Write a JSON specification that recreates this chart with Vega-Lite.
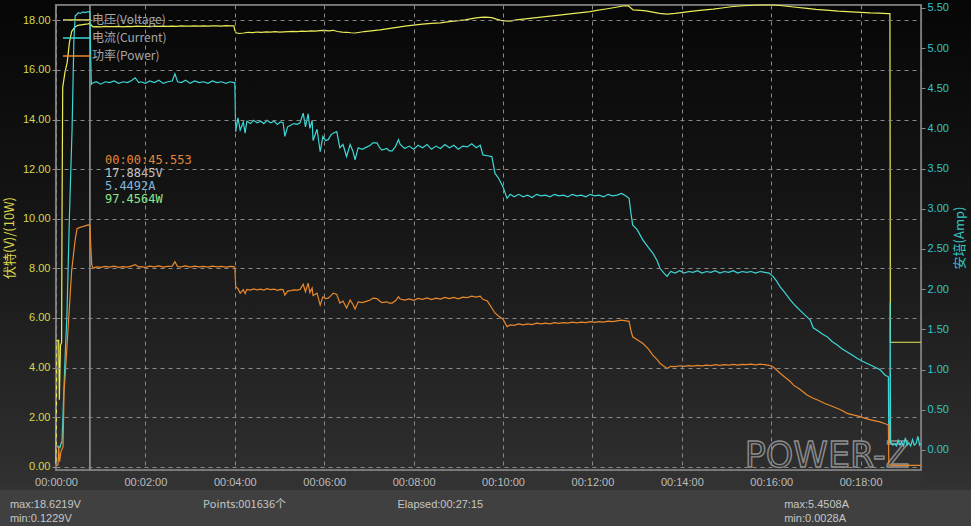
{
  "$schema": "https://vega.github.io/schema/vega-lite/v6.json",
  "width": 865,
  "height": 465,
  "autosize": {"type": "none"},
  "padding": {"left": 56, "top": 5, "right": 50, "bottom": 56},
  "background": "#404040",
  "config": {
    "view": {
      "fill": {"gradient": "linear", "x1": 0, "y1": 0, "x2": 0, "y2": 1, "stops": [{"offset": 0, "color": "#070707"}, {"offset": 0.5, "color": "#171717"}, {"offset": 1, "color": "#2e2e2e"}]},
      "stroke": "#8e8e8e",
      "strokeWidth": 1.5
    },
    "axis": {
      "domain": false,
      "labelFont": "Liberation Sans",
      "labelFontSize": 11,
      "titleFont": "Noto Sans CJK SC",
      "titleFontSize": 13,
      "titleFontWeight": "normal",
      "gridColor": "#8a8a8a",
      "gridDash": [4, 4],
      "gridWidth": 1,
      "tickColor": "#8e8e8e",
      "labelOverlap": false,
      "labelFlush": false
    }
  },
  "datasets": {
    "voltage": [
      {"t":0,"v":0.12},{"t":0.02,"v":5.1},{"t":0.06,"v":5.1},{"t":0.075,"v":2.7},{"t":0.1,"v":4.9},{"t":0.125,"v":5.0},{"t":0.135,"v":10.2},{"t":0.15,"v":15.3},{"t":0.2,"v":15.9},{"t":0.25,"v":16.3},{"t":0.3,"v":17.1},{"t":0.35,"v":17.55},{"t":0.42,"v":17.72},{"t":0.49,"v":17.8},{"t":0.6,"v":17.83},{"t":0.716,"v":17.86},{"t":0.759,"v":17.88},{"t":0.79,"v":17.8},{"t":0.83,"v":17.74},
      {"t":0.9,"v":17.75},{"t":1.0,"v":17.74},{"t":1.1,"v":17.76},{"t":1.2,"v":17.75},{"t":1.3,"v":17.75},{"t":1.4,"v":17.76},{"t":1.5,"v":17.74},{"t":1.6,"v":17.76},{"t":1.7,"v":17.75},{"t":1.8,"v":17.77},{"t":1.9,"v":17.76},{"t":2.0,"v":17.76},{"t":2.1,"v":17.75},{"t":2.2,"v":17.77},{"t":2.3,"v":17.76},{"t":2.4,"v":17.77},{"t":2.5,"v":17.76},{"t":2.6,"v":17.77},{"t":2.7,"v":17.76},{"t":2.8,"v":17.78},{"t":2.9,"v":17.77},{"t":3.0,"v":17.77},{"t":3.1,"v":17.78},{"t":3.2,"v":17.77},{"t":3.3,"v":17.78},{"t":3.4,"v":17.77},{"t":3.5,"v":17.78},{"t":3.6,"v":17.78},{"t":3.7,"v":17.77},{"t":3.8,"v":17.79},{"t":3.9,"v":17.78},{"t":3.98,"v":17.78},
      {"t":4.0,"v":17.6},{"t":4.03,"v":17.5},{"t":4.1,"v":17.47},{"t":4.2,"v":17.49},{"t":4.3,"v":17.52},{"t":4.4,"v":17.51},{"t":4.5,"v":17.53},{"t":4.6,"v":17.52},{"t":4.7,"v":17.54},{"t":4.8,"v":17.53},{"t":4.9,"v":17.55},{"t":5.0,"v":17.53},{"t":5.1,"v":17.54},{"t":5.2,"v":17.55},{"t":5.3,"v":17.56},{"t":5.4,"v":17.55},{"t":5.5,"v":17.57},{"t":5.6,"v":17.56},{"t":5.7,"v":17.58},{"t":5.8,"v":17.57},{"t":5.9,"v":17.59},{"t":6.0,"v":17.6},{"t":6.1,"v":17.58},{"t":6.2,"v":17.6},{"t":6.3,"v":17.55},{"t":6.4,"v":17.53},{"t":6.5,"v":17.52},{"t":6.6,"v":17.5},{"t":6.69,"v":17.49},{"t":6.8,"v":17.52},{"t":6.9,"v":17.55},{"t":7.0,"v":17.57},{"t":7.1,"v":17.59},{"t":7.25,"v":17.62},{"t":7.4,"v":17.66},{"t":7.55,"v":17.7},{"t":7.7,"v":17.74},{"t":7.85,"v":17.78},{"t":8.0,"v":17.81},{"t":8.2,"v":17.85},{"t":8.4,"v":17.88},{"t":8.6,"v":17.9},{"t":8.8,"v":17.95},{"t":9.0,"v":17.99},{"t":9.15,"v":18.02},{"t":9.3,"v":18.07},{"t":9.4,"v":18.1},{"t":9.49,"v":18.12},{"t":9.6,"v":18.13},{"t":9.75,"v":18.11},{"t":9.85,"v":18.05},{"t":9.95,"v":18.0},{"t":10.05,"v":17.98},{"t":10.16,"v":17.97},{"t":10.3,"v":18.02},{"t":10.45,"v":18.05},{"t":10.6,"v":18.08},{"t":10.8,"v":18.12},{"t":11.0,"v":18.16},{"t":11.21,"v":18.2},{"t":11.4,"v":18.24},{"t":11.6,"v":18.28},{"t":11.8,"v":18.32},{"t":11.95,"v":18.35},{"t":12.1,"v":18.4},{"t":12.3,"v":18.46},{"t":12.5,"v":18.52},{"t":12.68,"v":18.58},{"t":12.8,"v":18.59},{"t":12.86,"v":18.5},{"t":12.91,"v":18.42},{"t":13.07,"v":18.4},{"t":13.2,"v":18.38},{"t":13.35,"v":18.33},{"t":13.5,"v":18.28},{"t":13.67,"v":18.25},{"t":13.85,"v":18.28},{"t":14.03,"v":18.32},{"t":14.2,"v":18.36},{"t":14.4,"v":18.4},{"t":14.7,"v":18.45},{"t":14.9,"v":18.5},{"t":15.1,"v":18.55},{"t":15.3,"v":18.58},{"t":15.59,"v":18.61},{"t":15.8,"v":18.62},{"t":16.0,"v":18.62},{"t":16.13,"v":18.61},{"t":16.3,"v":18.58},{"t":16.5,"v":18.54},{"t":16.8,"v":18.48},{"t":17.0,"v":18.44},{"t":17.3,"v":18.4},{"t":17.5,"v":18.37},{"t":17.7,"v":18.35},{"t":17.9,"v":18.33},{"t":18.21,"v":18.3},{"t":18.4,"v":18.29},{"t":18.61,"v":18.27},{"t":18.655,"v":18.27},{"t":18.665,"v":5.02},{"t":19.35,"v":5.02}
    ],
    "current": [
      {"t":0,"v":0.02},{"t":0.045,"v":0.05},{"t":0.09,"v":0.03},{"t":0.11,"v":0.08},{"t":0.134,"v":0.1},{"t":0.2,"v":1.1},{"t":0.246,"v":1.7},{"t":0.3,"v":2.9},{"t":0.36,"v":4.0},{"t":0.4,"v":5.1},{"t":0.43,"v":5.4},{"t":0.47,"v":5.42},{"t":0.5,"v":5.44},{"t":0.55,"v":5.43},{"t":0.6,"v":5.45},{"t":0.65,"v":5.44},{"t":0.7,"v":5.45},{"t":0.759,"v":5.449},{"t":0.775,"v":4.9},{"t":0.79,"v":4.55},
      {"t":0.8,"v":4.56},{"t":0.9,"v":4.58},{"t":1.0,"v":4.55},{"t":1.1,"v":4.58},{"t":1.2,"v":4.57},{"t":1.3,"v":4.59},{"t":1.4,"v":4.56},{"t":1.5,"v":4.58},{"t":1.6,"v":4.57},{"t":1.7,"v":4.6},{"t":1.77,"v":4.63},{"t":1.85,"v":4.57},{"t":1.9,"v":4.58},{"t":2.0,"v":4.56},{"t":2.1,"v":4.59},{"t":2.2,"v":4.57},{"t":2.3,"v":4.6},{"t":2.4,"v":4.56},{"t":2.5,"v":4.58},{"t":2.6,"v":4.59},{"t":2.66,"v":4.68},{"t":2.72,"v":4.58},{"t":2.8,"v":4.57},{"t":2.9,"v":4.6},{"t":3.0,"v":4.56},{"t":3.1,"v":4.59},{"t":3.2,"v":4.57},{"t":3.3,"v":4.58},{"t":3.4,"v":4.56},{"t":3.5,"v":4.59},{"t":3.6,"v":4.57},{"t":3.7,"v":4.58},{"t":3.8,"v":4.56},{"t":3.9,"v":4.58},{"t":3.98,"v":4.57},
      {"t":4.0,"v":4.57},{"t":4.02,"v":3.96},{"t":4.07,"v":4.13},{"t":4.12,"v":3.98},{"t":4.19,"v":4.08},{"t":4.23,"v":3.94},{"t":4.27,"v":4.09},{"t":4.35,"v":4.06},{"t":4.42,"v":4.1},{"t":4.5,"v":4.07},{"t":4.58,"v":4.09},{"t":4.65,"v":4.06},{"t":4.72,"v":4.1},{"t":4.8,"v":4.07},{"t":4.88,"v":4.09},{"t":4.95,"v":4.05},{"t":5.02,"v":4.08},{"t":5.08,"v":4.07},{"t":5.12,"v":3.9},{"t":5.18,"v":4.02},{"t":5.25,"v":4.04},{"t":5.32,"v":4.06},{"t":5.4,"v":4.05},{"t":5.46,"v":4.07},{"t":5.53,"v":4.19},{"t":5.58,"v":4.02},{"t":5.64,"v":4.18},{"t":5.68,"v":4.0},{"t":5.73,"v":4.1},{"t":5.75,"v":3.85},{"t":5.84,"v":3.99},{"t":5.91,"v":3.71},{"t":5.97,"v":3.9},{"t":6.03,"v":3.85},{"t":6.09,"v":3.86},{"t":6.15,"v":3.92},{"t":6.2,"v":3.94},{"t":6.28,"v":3.96},{"t":6.35,"v":3.76},{"t":6.42,"v":3.8},{"t":6.5,"v":3.65},{"t":6.58,"v":3.8},{"t":6.64,"v":3.72},{"t":6.69,"v":3.61},{"t":6.76,"v":3.76},{"t":6.85,"v":3.74},{"t":6.96,"v":3.77},{"t":7.03,"v":3.79},{"t":7.09,"v":3.82},{"t":7.18,"v":3.82},{"t":7.24,"v":3.76},{"t":7.29,"v":3.73},{"t":7.4,"v":3.75},{"t":7.46,"v":3.72},{"t":7.52,"v":3.72},{"t":7.6,"v":3.78},{"t":7.66,"v":3.86},{"t":7.7,"v":3.8},
      {"t":7.8,"v":3.75},{"t":7.9,"v":3.78},{"t":8.0,"v":3.74},{"t":8.1,"v":3.79},{"t":8.2,"v":3.76},{"t":8.3,"v":3.8},{"t":8.4,"v":3.74},{"t":8.5,"v":3.78},{"t":8.6,"v":3.75},{"t":8.7,"v":3.8},{"t":8.8,"v":3.76},{"t":8.9,"v":3.79},{"t":9.0,"v":3.74},{"t":9.1,"v":3.78},{"t":9.2,"v":3.77},{"t":9.3,"v":3.81},{"t":9.4,"v":3.76},{"t":9.49,"v":3.79},
      {"t":9.55,"v":3.67},{"t":9.65,"v":3.66},{"t":9.75,"v":3.65},{"t":9.82,"v":3.44},{"t":9.9,"v":3.38},{"t":10.0,"v":3.27},{"t":10.09,"v":3.13},{"t":10.16,"v":3.18},
      {"t":10.25,"v":3.15},{"t":10.35,"v":3.18},{"t":10.45,"v":3.15},{"t":10.55,"v":3.17},{"t":10.65,"v":3.14},{"t":10.75,"v":3.18},{"t":10.85,"v":3.16},{"t":10.95,"v":3.17},{"t":11.05,"v":3.15},{"t":11.15,"v":3.18},{"t":11.25,"v":3.16},{"t":11.35,"v":3.17},{"t":11.45,"v":3.15},{"t":11.55,"v":3.18},{"t":11.65,"v":3.16},{"t":11.75,"v":3.17},{"t":11.85,"v":3.15},{"t":11.95,"v":3.18},{"t":12.05,"v":3.16},{"t":12.15,"v":3.17},{"t":12.25,"v":3.15},{"t":12.35,"v":3.18},{"t":12.45,"v":3.16},{"t":12.55,"v":3.17},{"t":12.65,"v":3.19},{"t":12.75,"v":3.16},
      {"t":12.82,"v":3.13},{"t":12.86,"v":2.95},{"t":12.9,"v":2.8},{"t":13.0,"v":2.74},{"t":13.13,"v":2.61},{"t":13.25,"v":2.52},{"t":13.35,"v":2.45},{"t":13.45,"v":2.35},{"t":13.51,"v":2.26},{"t":13.6,"v":2.2},{"t":13.67,"v":2.16},{"t":13.75,"v":2.22},
      {"t":13.85,"v":2.2},{"t":13.95,"v":2.23},{"t":14.05,"v":2.2},{"t":14.15,"v":2.22},{"t":14.25,"v":2.21},{"t":14.35,"v":2.23},{"t":14.45,"v":2.2},{"t":14.55,"v":2.22},{"t":14.65,"v":2.21},{"t":14.75,"v":2.23},{"t":14.85,"v":2.2},{"t":14.95,"v":2.22},{"t":15.05,"v":2.21},{"t":15.15,"v":2.23},{"t":15.25,"v":2.2},{"t":15.35,"v":2.22},{"t":15.45,"v":2.21},{"t":15.55,"v":2.22},{"t":15.65,"v":2.2},{"t":15.75,"v":2.22},{"t":15.85,"v":2.21},{"t":15.95,"v":2.2},
      {"t":16.04,"v":2.16},{"t":16.12,"v":2.1},{"t":16.2,"v":2.03},{"t":16.3,"v":1.96},{"t":16.42,"v":1.87},{"t":16.53,"v":1.8},{"t":16.64,"v":1.74},{"t":16.75,"v":1.68},{"t":16.87,"v":1.62},{"t":16.94,"v":1.52},{"t":17.05,"v":1.48},{"t":17.15,"v":1.44},{"t":17.25,"v":1.41},{"t":17.36,"v":1.35},{"t":17.47,"v":1.31},{"t":17.58,"v":1.26},{"t":17.7,"v":1.22},{"t":17.81,"v":1.18},{"t":17.92,"v":1.14},{"t":18.05,"v":1.1},{"t":18.21,"v":1.06},{"t":18.32,"v":1.03},{"t":18.43,"v":1.0},{"t":18.55,"v":0.93},{"t":18.62,"v":0.91},{"t":18.63,"v":0.09},{"t":18.655,"v":0.09},{"t":18.66,"v":1.83},{"t":18.67,"v":0.1},{"t":18.72,"v":0.06},
      {"t":18.76,"v":0.08},{"t":18.8,"v":0.05},{"t":18.84,"v":0.12},{"t":18.88,"v":0.06},{"t":18.92,"v":0.1},{"t":18.96,"v":0.05},{"t":19.0,"v":0.15},{"t":19.04,"v":0.06},{"t":19.08,"v":0.09},{"t":19.12,"v":0.05},{"t":19.16,"v":0.13},{"t":19.2,"v":0.06},{"t":19.24,"v":0.08},{"t":19.28,"v":0.17},{"t":19.32,"v":0.06},{"t":19.35,"v":0.08}
    ],
    "power": [
      {"t":0,"v":0.5},{"t":0.045,"v":0.7},{"t":0.06,"v":8},{"t":0.08,"v":2},{"t":0.11,"v":6},{"t":0.157,"v":8},{"t":0.18,"v":30},{"t":0.224,"v":42},{"t":0.268,"v":55},{"t":0.35,"v":79},{"t":0.425,"v":91},{"t":0.47,"v":96},{"t":0.55,"v":96.6},{"t":0.604,"v":96.8},{"t":0.716,"v":97.5},{"t":0.759,"v":97.46},{"t":0.775,"v":90},{"t":0.8,"v":81.5},{"t":0.83,"v":80.0},
      {"t":0.9,"v":80.6},{"t":1.0,"v":80.4},{"t":1.1,"v":80.8},{"t":1.2,"v":80.5},{"t":1.3,"v":80.9},{"t":1.4,"v":80.4},{"t":1.5,"v":80.7},{"t":1.6,"v":80.5},{"t":1.7,"v":81.0},{"t":1.77,"v":81.5},{"t":1.85,"v":80.5},{"t":1.9,"v":80.7},{"t":2.0,"v":80.4},{"t":2.1,"v":80.9},{"t":2.2,"v":80.6},{"t":2.3,"v":81.0},{"t":2.4,"v":80.5},{"t":2.5,"v":80.8},{"t":2.6,"v":80.9},{"t":2.66,"v":82.7},{"t":2.72,"v":80.7},{"t":2.8,"v":80.6},{"t":2.9,"v":81.0},{"t":3.0,"v":80.5},{"t":3.1,"v":80.9},{"t":3.2,"v":80.6},{"t":3.3,"v":80.8},{"t":3.4,"v":80.5},{"t":3.5,"v":80.9},{"t":3.6,"v":80.6},{"t":3.7,"v":80.8},{"t":3.8,"v":80.5},{"t":3.9,"v":80.8},{"t":3.98,"v":80.7},
      {"t":4.0,"v":80.5},{"t":4.02,"v":72.6},{"t":4.07,"v":71.8},{"t":4.12,"v":70.0},{"t":4.19,"v":71.4},{"t":4.23,"v":69.8},{"t":4.27,"v":71.5},{"t":4.35,"v":71.2},{"t":4.42,"v":71.7},{"t":4.5,"v":71.3},{"t":4.58,"v":71.6},{"t":4.65,"v":71.2},{"t":4.72,"v":71.8},{"t":4.8,"v":71.4},{"t":4.88,"v":71.6},{"t":4.95,"v":71.1},{"t":5.02,"v":71.5},{"t":5.08,"v":71.4},{"t":5.12,"v":69.2},{"t":5.18,"v":70.8},{"t":5.25,"v":71.0},{"t":5.32,"v":71.3},{"t":5.4,"v":71.2},{"t":5.46,"v":71.5},{"t":5.53,"v":73.6},{"t":5.58,"v":70.6},{"t":5.64,"v":74.0},{"t":5.68,"v":70.2},{"t":5.73,"v":72.0},{"t":5.75,"v":69.0},{"t":5.84,"v":70.0},{"t":5.91,"v":65.2},{"t":5.97,"v":68.5},{"t":6.03,"v":67.8},{"t":6.09,"v":68.0},{"t":6.15,"v":69.0},{"t":6.2,"v":70.0},{"t":6.28,"v":69.5},{"t":6.35,"v":66.0},{"t":6.42,"v":66.8},{"t":6.5,"v":64.0},{"t":6.58,"v":67.2},{"t":6.64,"v":65.5},{"t":6.69,"v":63.6},{"t":6.76,"v":66.5},{"t":6.85,"v":66.2},{"t":6.96,"v":66.8},{"t":7.03,"v":67.2},{"t":7.09,"v":68.0},{"t":7.18,"v":67.8},{"t":7.24,"v":66.8},{"t":7.29,"v":66.2},{"t":7.4,"v":66.5},{"t":7.46,"v":66.0},{"t":7.52,"v":66.0},{"t":7.6,"v":67.0},{"t":7.66,"v":68.5},{"t":7.7,"v":67.6},
      {"t":7.8,"v":67.2},{"t":7.9,"v":67.7},{"t":8.0,"v":67.1},{"t":8.1,"v":67.9},{"t":8.2,"v":67.5},{"t":8.3,"v":68.1},{"t":8.4,"v":67.4},{"t":8.5,"v":68.0},{"t":8.6,"v":67.6},{"t":8.7,"v":68.3},{"t":8.8,"v":67.8},{"t":8.9,"v":68.3},{"t":9.0,"v":67.7},{"t":9.1,"v":68.4},{"t":9.2,"v":68.2},{"t":9.3,"v":68.8},{"t":9.4,"v":68.4},{"t":9.49,"v":68.8},
      {"t":9.55,"v":67.5},{"t":9.65,"v":66.8},{"t":9.75,"v":64.0},{"t":9.82,"v":62.0},{"t":9.9,"v":60.8},{"t":10.0,"v":59.5},{"t":10.09,"v":56.5},{"t":10.16,"v":57.2},
      {"t":10.25,"v":57.0},{"t":10.35,"v":57.6},{"t":10.45,"v":57.2},{"t":10.55,"v":57.6},{"t":10.65,"v":57.3},{"t":10.75,"v":57.9},{"t":10.85,"v":57.6},{"t":10.95,"v":57.9},{"t":11.05,"v":57.6},{"t":11.15,"v":58.1},{"t":11.25,"v":57.8},{"t":11.35,"v":58.1},{"t":11.45,"v":57.9},{"t":11.55,"v":58.3},{"t":11.65,"v":58.0},{"t":11.75,"v":58.3},{"t":11.85,"v":58.1},{"t":11.95,"v":58.5},{"t":12.05,"v":58.2},{"t":12.15,"v":58.5},{"t":12.25,"v":58.3},{"t":12.35,"v":58.7},{"t":12.45,"v":58.5},{"t":12.55,"v":58.8},{"t":12.65,"v":59.1},{"t":12.75,"v":58.8},
      {"t":12.82,"v":58.6},{"t":12.86,"v":55.0},{"t":12.9,"v":52.4},{"t":13.0,"v":51.2},{"t":13.13,"v":49.7},{"t":13.25,"v":47.5},{"t":13.35,"v":45.0},{"t":13.45,"v":43.2},{"t":13.51,"v":41.7},{"t":13.6,"v":40.5},{"t":13.67,"v":39.6},{"t":13.75,"v":40.5},
      {"t":13.85,"v":40.4},{"t":13.95,"v":40.7},{"t":14.05,"v":40.5},{"t":14.15,"v":40.8},{"t":14.25,"v":40.6},{"t":14.35,"v":40.9},{"t":14.45,"v":40.7},{"t":14.55,"v":41.0},{"t":14.65,"v":40.8},{"t":14.75,"v":41.2},{"t":14.85,"v":40.9},{"t":14.95,"v":41.2},{"t":15.05,"v":41.0},{"t":15.15,"v":41.3},{"t":15.25,"v":41.0},{"t":15.35,"v":41.3},{"t":15.45,"v":41.2},{"t":15.55,"v":41.4},{"t":15.65,"v":41.1},{"t":15.75,"v":41.4},{"t":15.85,"v":41.2},{"t":15.95,"v":40.9},
      {"t":16.04,"v":40.3},{"t":16.12,"v":39.0},{"t":16.2,"v":37.7},{"t":16.3,"v":36.2},{"t":16.42,"v":34.5},{"t":16.5,"v":32.9},{"t":16.64,"v":31.2},{"t":16.8,"v":28.9},{"t":16.94,"v":27.6},{"t":17.05,"v":26.8},{"t":17.2,"v":25.5},{"t":17.39,"v":24.2},{"t":17.55,"v":23.0},{"t":17.7,"v":21.5},{"t":17.85,"v":20.8},{"t":17.99,"v":20.2},{"t":18.1,"v":19.5},{"t":18.25,"v":18.8},{"t":18.43,"v":18.1},{"t":18.55,"v":17.3},{"t":18.62,"v":16.8},{"t":18.63,"v":0.7},{"t":18.7,"v":0.5},{"t":19.35,"v":0.5}
    ]
  },
  "layer": [
    {
      "data": {"values": [{}]},
      "layer": [
        {
          "mark": {"type": "rect", "fill": {"gradient": "linear", "x1": 0, "y1": 0, "x2": 0, "y2": 1, "stops": [{"offset": 0, "color": "#060606"}, {"offset": 0.5, "color": "#171717"}, {"offset": 0.95, "color": "#2e2e2e"}, {"offset": 1, "color": "#333333"}]}},
          "encoding": {
            "x": {"datum": -1.27, "type": "quantitative"},
            "x2": {"datum": -0.025},
            "y": {"datum": 18.83, "type": "quantitative"},
            "y2": {"datum": -0.94}
          }
        },
        {
          "mark": {"type": "rect", "fill": {"gradient": "linear", "x1": 0, "y1": 0, "x2": 0, "y2": 1, "stops": [{"offset": 0, "color": "#060606"}, {"offset": 0.5, "color": "#171717"}, {"offset": 0.95, "color": "#2e2e2e"}, {"offset": 1, "color": "#333333"}]}},
          "encoding": {
            "x": {"datum": 19.375, "type": "quantitative"},
            "x2": {"datum": 20.47},
            "y": {"datum": 18.83, "type": "quantitative"},
            "y2": {"datum": -0.94}
          }
        },
        {
          "mark": {"type": "rect", "fill": "#060606"},
          "encoding": {
            "x": {"datum": -0.03, "type": "quantitative"},
            "x2": {"datum": 19.38},
            "y": {"datum": 18.84, "type": "quantitative"},
            "y2": {"datum": 18.665}
          }
        },
        {
          "mark": {"type": "rect", "fill": "#323232"},
          "encoding": {
            "x": {"datum": -0.03, "type": "quantitative"},
            "x2": {"datum": 19.38},
            "y": {"datum": -0.175, "type": "quantitative"},
            "y2": {"datum": -0.94}
          }
        },
        {
          "mark": {"type": "rule", "color": "#9c9c9c", "strokeWidth": 1.5},
          "encoding": {"x": {"datum": 0.759, "type": "quantitative"}}
        },
        {
          "mark": {"type": "text", "align": "center", "baseline": "middle", "font": "DejaVu Sans", "fontWeight": "normal", "fontSize": 35, "fill": "#303030", "stroke": "#8c8c8c", "strokeWidth": 1.4},
          "encoding": {"x": {"datum": 17.25, "type": "quantitative"}, "y": {"datum": 0.45, "type": "quantitative"}, "text": {"value": "POWER-Z"}}
        },
        {
          "data": {"name": "voltage"},
          "mark": {"type": "line", "strokeWidth": 1.2, "interpolate": "linear"},
          "encoding": {
            "x": {
              "field": "t", "type": "quantitative",
              "scale": {"domain": [0, 19.35], "nice": false, "zero": false},
              "axis": {
                "zindex": 1,
                "values": [0, 2, 4, 6, 8, 10, 12, 14, 16, 18],
                "labelExpr": "'00:' + (datum.value < 10 ? '0' : '') + datum.value + ':00'",
                "labelColor": "#bdbdbd",
                "labelPadding": 6,
                "tickSize": 0,
                "title": null,
                "grid": true
              }
            },
            "y": {
              "field": "v", "type": "quantitative",
              "scale": {"domain": [-0.133, 18.62], "nice": false, "zero": false},
              "axis": {
                "zindex": 1,
                "values": [0, 2, 4, 6, 8, 10, 12, 14, 16, 18],
                "format": ".2f",
                "labelColor": "#d8d84c",
                "tickSize": 4,
                "labelPadding": 2,
                "title": "伏特(V)/(10W)",
                "titleColor": "#d8d84c",
                "titlePadding": 6,
                "grid": true
              }
            },
            "color": {
              "datum": "电压(Voltage)",
              "scale": {"domain": ["电压(Voltage)", "电流(Current)", "功率(Power)"], "range": ["#ecec5a", "#3ed6d6", "#e8882c"]},
              "legend": {
                "orient": "none",
                "legendX": 6,
                "legendY": 8,
                "title": null,
                "symbolType": "stroke",
                "symbolSize": 784,
                "symbolStrokeWidth": 1.5,
                "labelColor": "#a8a8a8",
                "labelFont": "Noto Sans CJK SC",
                "labelFontSize": 12,
                "labelOffset": 0,
                "clipHeight": 14,
                "rowPadding": 4
              }
            }
          }
        },
        {
          "mark": {"type": "text", "align": "left", "baseline": "middle", "font": "DejaVu Sans Mono", "fontSize": 12, "color": "#e0883a"},
          "encoding": {"x": {"datum": 1.095, "type": "quantitative"}, "y": {"datum": 12.38, "type": "quantitative"}, "text": {"value": "00:00:45.553"}}
        },
        {
          "mark": {"type": "text", "align": "left", "baseline": "middle", "font": "DejaVu Sans Mono", "fontSize": 12, "color": "#c4c4c4"},
          "encoding": {"x": {"datum": 1.095, "type": "quantitative"}, "y": {"datum": 11.85, "type": "quantitative"}, "text": {"value": "17.8845V"}}
        },
        {
          "mark": {"type": "text", "align": "left", "baseline": "middle", "font": "DejaVu Sans Mono", "fontSize": 12, "color": "#82b6de"},
          "encoding": {"x": {"datum": 1.095, "type": "quantitative"}, "y": {"datum": 11.32, "type": "quantitative"}, "text": {"value": "5.4492A"}}
        },
        {
          "mark": {"type": "text", "align": "left", "baseline": "middle", "font": "DejaVu Sans Mono", "fontSize": 12, "color": "#8ee48e"},
          "encoding": {"x": {"datum": 1.095, "type": "quantitative"}, "y": {"datum": 10.79, "type": "quantitative"}, "text": {"value": "97.4564W"}}
        },
        {
          "mark": {"type": "text", "align": "left", "baseline": "middle", "font": "Liberation Sans", "fontSize": 11, "color": "#c6c6c6"},
          "encoding": {"x": {"datum": -1.03, "type": "quantitative"}, "y": {"datum": -1.544, "type": "quantitative"}, "text": {"value": "max:18.6219V"}}
        },
        {
          "mark": {"type": "text", "align": "left", "baseline": "middle", "font": "Liberation Sans", "fontSize": 11, "color": "#c6c6c6"},
          "encoding": {"x": {"datum": -1.03, "type": "quantitative"}, "y": {"datum": -2.109, "type": "quantitative"}, "text": {"value": "min:0.1229V"}}
        },
        {
          "mark": {"type": "text", "align": "left", "baseline": "middle", "font": "Noto Sans CJK SC", "fontSize": 11, "color": "#c6c6c6"},
          "encoding": {"x": {"datum": 3.29, "type": "quantitative"}, "y": {"datum": -1.544, "type": "quantitative"}, "text": {"value": "Points:001636个"}}
        },
        {
          "mark": {"type": "text", "align": "left", "baseline": "middle", "font": "Liberation Sans", "fontSize": 11, "color": "#c6c6c6"},
          "encoding": {"x": {"datum": 7.64, "type": "quantitative"}, "y": {"datum": -1.544, "type": "quantitative"}, "text": {"value": "Elapsed:00:27:15"}}
        },
        {
          "mark": {"type": "text", "align": "left", "baseline": "middle", "font": "Liberation Sans", "fontSize": 11, "color": "#c6c6c6"},
          "encoding": {"x": {"datum": 16.29, "type": "quantitative"}, "y": {"datum": -1.544, "type": "quantitative"}, "text": {"value": "max:5.4508A"}}
        },
        {
          "mark": {"type": "text", "align": "left", "baseline": "middle", "font": "Liberation Sans", "fontSize": 11, "color": "#c6c6c6"},
          "encoding": {"x": {"datum": 16.29, "type": "quantitative"}, "y": {"datum": -2.109, "type": "quantitative"}, "text": {"value": "min:0.0028A"}}
        }
      ]
    },
    {
      "data": {"name": "current"},
      "mark": {"type": "line", "strokeWidth": 1.2},
      "encoding": {
        "x": {"field": "t", "type": "quantitative"},
        "y": {
          "field": "v", "type": "quantitative",
          "scale": {"domain": [-0.249, 5.535], "nice": false, "zero": false},
          "axis": {
            "zindex": 1,
            "orient": "right",
            "values": [0, 0.5, 1, 1.5, 2, 2.5, 3, 3.5, 4, 4.5, 5, 5.5],
            "format": ".2f",
            "labelColor": "#36c4c4",
            "tickSize": 4,
            "labelPadding": 2,
            "title": "安培(Amp)",
            "titleColor": "#36c4c4",
            "titleAngle": 270,
            "titlePadding": 18,
            "grid": false
          }
        },
        "color": {"datum": "电流(Current)"}
      }
    },
    {
      "data": {"name": "power"},
      "mark": {"type": "line", "strokeWidth": 1.2},
      "encoding": {
        "x": {"field": "t", "type": "quantitative"},
        "y": {
          "field": "v", "type": "quantitative",
          "scale": {"domain": [-1.33, 186.2], "nice": false, "zero": false},
          "axis": null
        },
        "color": {"datum": "功率(Power)"}
      }
    }
  ],
  "resolve": {"scale": {"y": "independent"}, "axis": {"y": "independent"}}
}
